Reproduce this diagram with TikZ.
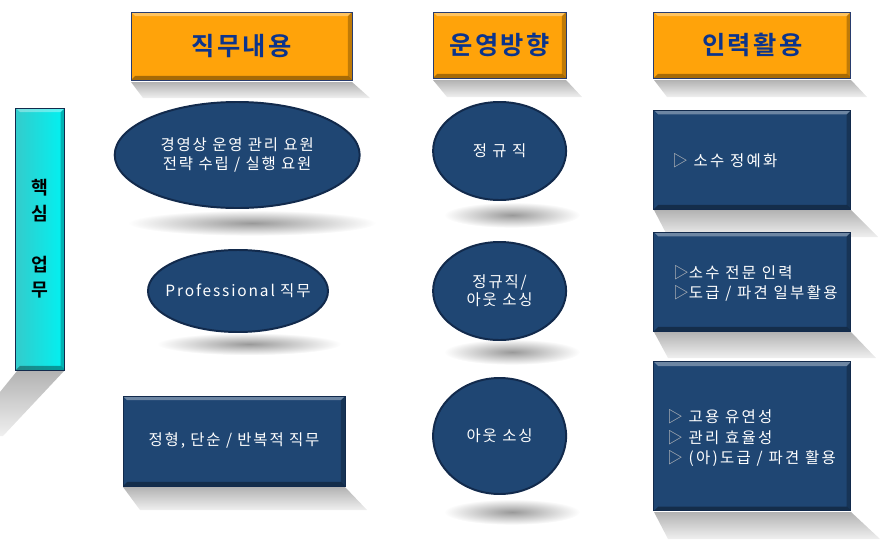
\documentclass[tikz,border=0pt]{standalone}
\usepackage{fontspec}
\setmainfont{Noto Sans CJK KR}[BoldFont={Noto Sans CJK KR Bold}]
\usetikzlibrary{shapes.geometric, positioning}

\definecolor{navy}{RGB}{31,70,115}
\definecolor{navyrim}{RGB}{18,42,76}
\definecolor{hdrorange}{RGB}{255,163,10}
\definecolor{hdrrim}{RGB}{40,60,110}
\definecolor{hdrtext}{RGB}{12,52,140}
\definecolor{barcyan}{RGB}{0,242,242}

\newcommand{\trimark}{{\color{black!25}▷}}

\tikzset{
  bevel/.style={path picture={
    \fill[white,opacity=.35] (path picture bounding box.north west) -- (path picture bounding box.north east)
      -- ([xshift=-3pt,yshift=-3pt]path picture bounding box.north east) -- ([xshift=3pt,yshift=-3pt]path picture bounding box.north west) -- cycle;
    \fill[black,opacity=.35] (path picture bounding box.south west) -- (path picture bounding box.south east)
      -- ([xshift=-3pt,yshift=3pt]path picture bounding box.south east) -- ([xshift=3pt,yshift=3pt]path picture bounding box.south west) -- cycle;
    \fill[black,opacity=.25] (path picture bounding box.north east) -- (path picture bounding box.south east)
      -- ([xshift=-3pt,yshift=3pt]path picture bounding box.south east) -- ([xshift=-3pt,yshift=-3pt]path picture bounding box.north east) -- cycle;
  }},
  hdr/.style={draw=hdrrim, line width=0.6pt, fill=hdrorange, text=hdrtext, inner sep=0pt,
    font=\fontsize{18}{20}\selectfont\bfseries\addfontfeature{LetterSpace=10}, bevel},
  jobbox/.style={draw=navyrim, line width=0.6pt, fill=navy, text=white, inner sep=0pt,
    font=\fontsize{11}{14}\selectfont\addfontfeature{LetterSpace=12}, align=center, bevel},
  jobell/.style={ellipse, draw=navyrim, line width=1.4pt, fill=navy, text=white, inner sep=0pt,
    font=\fontsize{11}{14}\selectfont\addfontfeature{LetterSpace=12}, align=center},
  sidebar/.style={draw=navyrim, line width=0.6pt, left color=cyan!60!gray, right color=barcyan,
    minimum width=1.225cm, minimum height=6.55cm, inner sep=0pt, align=center,
    font=\fontsize{13}{18}\selectfont\bfseries, bevel},
  txt/.style={text=white, align=left, inner sep=0pt,
    font=\fontsize{11}{14}\selectfont\addfontfeature{LetterSpace=15}},
  shadowpoly/.style={top color=black!30, bottom color=black!6},
  shadowell/.style={inner color=black!40, outer color=white}
}

\begin{document}
\begin{tikzpicture}
\useasboundingbox (0,0) rectangle (22.025,-13.475);

% Shadows
\path[shadowpoly] (3.275,-2.05) -- (8.8,-2.05) -- (9.25,-2.45) -- (3.575,-2.45) -- cycle;
\path[shadowpoly] (10.825,-2.0) -- (14.15,-2.0) -- (14.55,-2.425) -- (11.175,-2.425) -- cycle;
\path[shadowpoly] (16.35,-2.0) -- (21.275,-2.0) -- (21.675,-2.425) -- (16.675,-2.425) -- cycle;
\path[shadowpoly] (0.425,-9.275) -- (1.6,-9.275) -- (0.075,-10.9) -- (0,-10.9) -- (0,-9.8) -- cycle;
\path[shadowpoly] (3.075,-12.175) -- (8.625,-12.175) -- (9.175,-12.75) -- (3.5,-12.75) -- cycle;
\path[shadowpoly] (16.35,-5.25) -- (21.275,-5.25) -- (21.95,-5.925) -- (16.7,-5.925) -- cycle;
\path[shadowpoly] (16.35,-8.3) -- (21.275,-8.3) -- (21.9,-8.95) -- (16.7,-8.95) -- cycle;
\path[shadowpoly] (16.35,-12.8) -- (21.275,-12.8) -- (22.0,-13.475) -- (16.7,-13.475) -- cycle;
\path[shadowell] (6.3,-5.575) ellipse (3.1 and 0.32);
\path[shadowell] (6.225,-8.6) ellipse (2.3 and 0.28);
\path[shadowell] (12.8,-5.375) ellipse (1.7 and 0.32);
\path[shadowell] (12.8,-8.8) ellipse (1.7 and 0.32);
\path[shadowell] (12.8,-12.8) ellipse (1.7 and 0.32);

% Column headers
\node[hdr, minimum width=5.525cm, minimum height=1.7cm] (job) at (6.04,-1.15) {직무내용};
\node[hdr, minimum width=3.325cm, minimum height=1.65cm] (ops) at (12.49,-1.125) {운영방향};
\node[hdr, minimum width=4.925cm, minimum height=1.65cm] (use) at (18.81,-1.125) {인력활용};

% Side bar
\node[sidebar] (core) at (1.01,-5.975) {핵\\심\\[0.65cm]업\\무};

% Job content
\node[jobell, minimum width=6.125cm, minimum height=2.65cm] (mgmt) at (5.93,-3.875) {경영상 운영 관리 요원\\전략 수립 / 실행 요원};
\node[jobell, minimum width=4.5cm, minimum height=2.05cm, inner xsep=-0.6cm] (prof) at (5.95,-7.275) {Professional 직무};
\node[jobbox, minimum width=5.55cm, minimum height=2.25cm] (routine) at (5.85,-11.025) {정형, 단순 / 반복적 직무};

% Operation direction
\node[jobell, minimum width=3.325cm, minimum height=2.45cm] (reg) at (12.49,-3.775) {정 규 직};
\node[jobell, minimum width=3.325cm, minimum height=2.45cm, font=\fontsize{11}{13}\selectfont\addfontfeature{LetterSpace=12}] (mix) at (12.49,-7.275) {정규직/\\아웃 소싱};
\node[jobell, minimum width=3.325cm, minimum height=2.9cm] (out) at (12.49,-10.9) {아웃 소싱};

% Staffing
\node[jobbox, minimum width=4.925cm, minimum height=2.475cm] (elite) at (18.81,-3.99) {};
\node[jobbox, minimum width=4.925cm, minimum height=2.475cm] (expert) at (18.81,-7.04) {};
\node[jobbox, minimum width=4.925cm, minimum height=3.725cm] (flex) at (18.81,-10.91) {};
\node[txt, anchor=west] (elitet) at (16.8,-4.025) {\trimark\ 소수 정예화};
\node[txt, anchor=west] (expertt) at (16.825,-7.075) {\trimark 소수 전문 인력\\\trimark 도급 / 파견 일부활용};
\node[txt, anchor=west, font=\fontsize{11}{14.5}\selectfont\addfontfeature{LetterSpace=15}] (flext) at (16.675,-10.95) {\trimark\ 고용 유연성\\\trimark\ 관리 효율성\\\trimark\ (아)도급 / 파견 활용};
\end{tikzpicture}
\end{document}
